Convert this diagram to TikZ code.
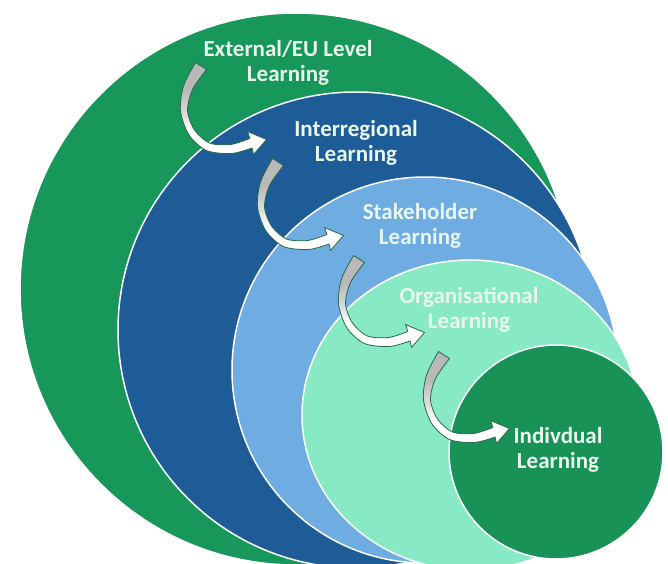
\documentclass[tikz,border=0pt]{standalone}
\usepackage{fontspec}
\setmainfont{Carlito}
\definecolor{cgreen}{RGB}{24,151,90}
\definecolor{cblue}{RGB}{30,92,152}
\definecolor{clblue}{RGB}{110,172,226}
\definecolor{cmint}{RGB}{136,234,196}
\definecolor{cdgreen}{RGB}{25,146,88}
\definecolor{ctext}{RGB}{232,246,238}
\definecolor{arrline}{RGB}{40,105,75}
\definecolor{agray}{RGB}{185,185,185}
\definecolor{agraylight}{RGB}{220,220,220}
\pgfdeclareverticalshading{arrowshade}{100bp}{color(0bp)=(white); color(38bp)=(white); color(47bp)=(agraylight); color(60bp)=(agray); color(100bp)=(agray)}
\tikzset{
  ring/.style={draw=white, line width=1.5pt},
  lbl/.style={text=ctext, align=center, font=\bfseries\fontsize{23}{25}\selectfont, inner sep=0pt},
  curvarrow/.pic={
    \shade[shading=arrowshade, draw=arrline, line width=0.8pt, line join=round]
      plot[smooth] coordinates {(-5.5,-3.5) (-17.5,20) (-20.5,45) (-12,69) (5.5,84.5) (30.4,87.5) (51.1,82)}
      -- (52.5,88.5) -- (65.5,73.5) -- (46.5,65.5) -- (48.9,72.5)
      -- plot[smooth] coordinates {(48.9,72.5) (29.6,78.5) (8.5,77) (-6.5,64) (-13.5,44.7) (-8.5,23.5) (5.5,3.5)}
      -- cycle;
  }
}
\begin{document}
\begin{tikzpicture}[x=1pt,y=-1pt]
\useasboundingbox (0,0) rectangle (668,563);
\fill[white] (0,0) rectangle (668,563);
\clip (0,0) rectangle (668,563);
% nested shapes
\fill[cgreen, ring] (296,289) circle[radius=276];
\fill[cblue, ring] (356,330) circle[radius=238];
\fill[clblue, ring] (425,370) circle[radius=193];
\fill[cmint, ring] (470,415) ellipse[x radius=168, y radius=155];
\fill[cdgreen, ring] (556,452) circle[radius=107];
% arrows
\pic at (201,66) {curvarrow};
\pic at (278,162) {curvarrow};
\pic at (359,259) {curvarrow};
\pic at (444,355) {curvarrow};
% labels
\node[lbl] (t1) at (288,63) {External/EU Level\\Learning};
\node[lbl] (t2) at (356,143) {Interregional\\Learning};
\node[lbl] (t3) at (420,226) {Stakeholder\\Learning};
\node[lbl] (t4) at (469,310) {Organisational\\Learning};
\node[lbl] (t5) at (558,450) {Indivdual\\Learning};
\end{tikzpicture}
\end{document}
